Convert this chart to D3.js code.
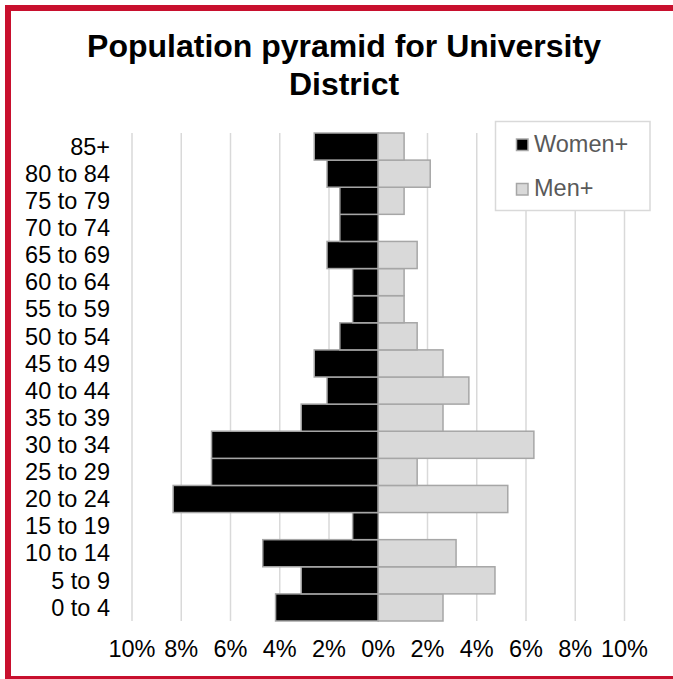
<!DOCTYPE html>
<html>
<head>
<meta charset="utf-8">
<script src="https://cdn.jsdelivr.net/npm/d3@7"></script>
<style>
  html, body { margin: 0; padding: 0; background: #fff; overflow: hidden; }
  svg { display: block; }
  text { font-family: "Liberation Sans", Arial, sans-serif; }
</style>
</head>
<body>
<svg id="chart" width="673" height="679"></svg>
<script>
// Age groups, bottom to top
const ageGroups = ["0 to 4", "5 to 9", "10 to 14", "15 to 19", "20 to 24", "25 to 29",
  "30 to 34", "35 to 39", "40 to 44", "45 to 49", "50 to 54", "55 to 59",
  "60 to 64", "65 to 69", "70 to 74", "75 to 79", "80 to 84", "85+"];
// Share of population (%)
const women = [4.17, 3.13, 4.69, 1.04, 8.33, 6.77, 6.77, 3.13, 2.08, 2.60, 1.56, 1.04,
  1.04, 2.08, 1.56, 1.56, 2.08, 2.60];
const men = [2.63, 4.74, 3.16, 0, 5.26, 1.58, 6.32, 2.63, 3.68, 2.63, 1.58, 1.05,
  1.05, 1.58, 0, 1.05, 2.11, 1.05];
const tickValues = [-10, -8, -6, -4, -2, 0, 2, 4, 6, 8, 10];
const seriesNames = ["Women+", "Men+"];

const svg = d3.select("#chart");

// Red outer frame (right side falls outside the picture)
svg.append("rect")
  .attr("x", 8).attr("y", 8)
  .attr("width", 900).attr("height", 671)
  .attr("fill", "none")
  .attr("stroke", "#c8102e")
  .attr("stroke-width", 6);

// Title
const title = svg.append("text")
  .attr("text-anchor", "middle")
  .attr("font-weight", "bold")
  .attr("font-size", 32)
  .attr("fill", "#000");
title.append("tspan").attr("x", 344).attr("y", 57).text("Population pyramid for University");
title.append("tspan").attr("x", 344).attr("y", 95).text("District");

const x = d3.scaleLinear().domain([-10, 10]).range([132, 624.5]);
const y = d3.scaleBand().domain(ageGroups.slice().reverse()).range([133, 621]).padding(0);

// Gridlines
svg.append("g").selectAll("line")
  .data(tickValues)
  .join("line")
  .attr("x1", d => x(d)).attr("x2", d => x(d))
  .attr("y1", 133).attr("y2", 621)
  .attr("stroke", "#d9d9d9")
  .attr("stroke-width", 1.5);

// Bars
const rows = ageGroups.map((a, i) => ({ age: a, w: women[i], m: men[i] }));
svg.append("g").selectAll("rect")
  .data(rows.filter(d => d.w > 0))
  .join("rect")
  .attr("x", d => x(-d.w))
  .attr("y", d => y(d.age))
  .attr("width", d => x(0) - x(-d.w))
  .attr("height", y.bandwidth())
  .attr("fill", "#000")
  .attr("stroke", "#a6a6a6")
  .attr("stroke-width", 1.5);

svg.append("g").selectAll("rect")
  .data(rows.filter(d => d.m > 0))
  .join("rect")
  .attr("x", x(0))
  .attr("y", d => y(d.age))
  .attr("width", d => x(d.m) - x(0))
  .attr("height", y.bandwidth())
  .attr("fill", "#d9d9d9")
  .attr("stroke", "#a6a6a6")
  .attr("stroke-width", 1.5);

// Category labels
svg.append("g").selectAll("text")
  .data(ageGroups)
  .join("text")
  .attr("x", 110)
  .attr("y", d => y(d) + y.bandwidth() / 2)
  .attr("dy", "0.35em")
  .attr("text-anchor", "end")
  .attr("font-size", 23.5)
  .attr("fill", "#000")
  .text(d => d);

// X-axis labels
svg.append("g").selectAll("text")
  .data(tickValues)
  .join("text")
  .attr("x", d => x(d))
  .attr("y", 657)
  .attr("text-anchor", "middle")
  .attr("font-size", 23.5)
  .attr("fill", "#000")
  .text(d => Math.abs(d) + "%");

// Legend
const lg = svg.append("g");
lg.append("rect")
  .attr("x", 495.5).attr("y", 121.5)
  .attr("width", 154.5).attr("height", 89)
  .attr("fill", "#fff")
  .attr("stroke", "#d9d9d9")
  .attr("stroke-width", 1.5);
const legendFills = ["#000", "#d9d9d9"];
const legendY = [139, 183.5];
seriesNames.forEach((n, i) => {
  lg.append("rect")
    .attr("x", 516.5).attr("y", legendY[i])
    .attr("width", 11.5).attr("height", 11.5)
    .attr("fill", legendFills[i])
    .attr("stroke", "#a6a6a6")
    .attr("stroke-width", 1.5);
  lg.append("text")
    .attr("x", 534).attr("y", legendY[i] + 12.5)
    .attr("font-size", 23.5)
    .attr("fill", "#595959")
    .text(n);
});
</script>
</body>
</html>
